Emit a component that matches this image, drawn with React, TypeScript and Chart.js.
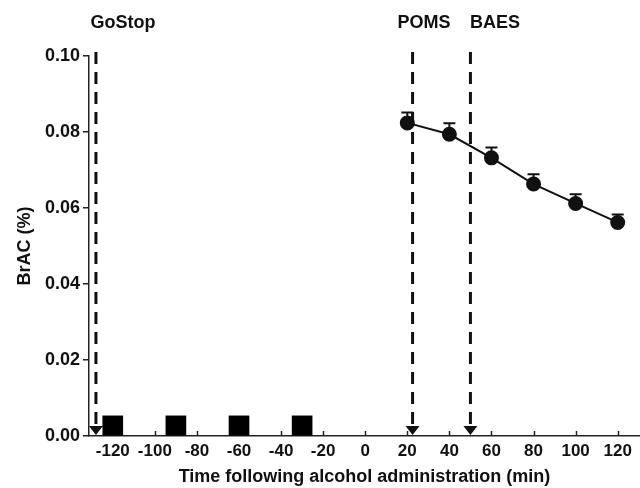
import React, { useEffect, useRef } from 'react';
import { Chart, registerables } from 'chart.js';

Chart.register(...registerables);

// ---- data ----
const times = [20, 40, 60, 80, 100, 120];
const brac = [0.0824, 0.0794, 0.0732, 0.0663, 0.0612, 0.0562];
const bracSem = [0.0027, 0.0029, 0.0027, 0.0026, 0.0024, 0.0021];
const drinkTimes = [-120, -90, -60, -30];
const drinkMarks = [0.0053, 0.0053, 0.0053, 0.0053];
const eventNames = ['GoStop', 'POMS', 'BAES'];
const eventTimes = [-128, 22.5, 50];
const xTicks = [-120, -100, -80, -60, -40, -20, 0, 20, 40, 60, 80, 100, 120];
const yTicks = [0, 0.02, 0.04, 0.06, 0.08, 0.1];

const FONT = '"Liberation Sans", Arial, Helvetica, sans-serif';
const INK = '#111';

const annotate = {
  id: 'annotate',
  beforeDatasetsDraw(chart: any, _args: any, opts: any) {
    const { ctx, chartArea: a, scales } = chart;
    const x = scales.x;
    ctx.save();
    // dashed event lines
    ctx.strokeStyle = INK;
    ctx.lineWidth = 3;
    ctx.setLineDash([12, 8]);
    eventTimes.forEach((t) => {
      const px = x.getPixelForValue(t);
      ctx.beginPath();
      ctx.moveTo(px, a.top - 4);
      ctx.lineTo(px, a.bottom - 9);
      ctx.stroke();
    });
    ctx.setLineDash([]);
    // arrowheads
    ctx.fillStyle = INK;
    eventTimes.forEach((t) => {
      const px = x.getPixelForValue(t);
      ctx.beginPath();
      ctx.moveTo(px - 7, a.bottom - 10);
      ctx.lineTo(px + 7, a.bottom - 10);
      ctx.lineTo(px, a.bottom - 1);
      ctx.closePath();
      ctx.fill();
    });
    // event labels
    ctx.font = `bold 18px ${FONT}`;
    ctx.textAlign = 'center';
    ctx.textBaseline = 'middle';
    eventNames.forEach((n, i) => {
      ctx.fillText(n, x.getPixelForValue(eventTimes[i]) + opts.labelShift[i], opts.labelY);
    });
    // inward x tick marks
    ctx.strokeStyle = '#222';
    ctx.lineWidth = 1.5;
    xTicks.forEach((v) => {
      const px = Math.round(x.getPixelForValue(v)) + 0.5;
      ctx.beginPath();
      ctx.moveTo(px, a.bottom);
      ctx.lineTo(px, a.bottom - 5);
      ctx.stroke();
    });
    ctx.restore();
  },
  afterDatasetsDraw(chart: any) {
    const { ctx, scales } = chart;
    const x = scales.x;
    const y = scales.y;
    ctx.save();
    ctx.strokeStyle = INK;
    ctx.lineWidth = 2;
    times.forEach((t, i) => {
      const px = x.getPixelForValue(t);
      const py = y.getPixelForValue(brac[i]);
      const pt = y.getPixelForValue(brac[i] + bracSem[i]);
      ctx.beginPath();
      ctx.moveTo(px, py);
      ctx.lineTo(px, pt);
      ctx.moveTo(px - 6, pt);
      ctx.lineTo(px + 6, pt);
      ctx.stroke();
    });
    ctx.restore();
  },
};

export default function App() {
  const ref = useRef<HTMLCanvasElement>(null);

  useEffect(() => {
    if (!ref.current) return;
    const chart = new Chart(ref.current, {
      type: 'line',
      data: {
        datasets: [
          {
            type: 'line',
            label: 'BrAC',
            data: times.map((t, i) => ({ x: t, y: brac[i] })),
            borderColor: INK,
            borderWidth: 2,
            backgroundColor: INK,
            pointBackgroundColor: INK,
            pointBorderColor: INK,
            pointRadius: 6.5,
            tension: 0,
            clip: false,
          },
          {
            type: 'bar',
            label: 'Drinks',
            data: drinkTimes.map((t, i) => ({ x: t, y: drinkMarks[i] })),
            backgroundColor: '#000',
            borderWidth: 0,
            barThickness: 20,
          } as any,
        ],
      },
      plugins: [annotate as any],
      options: {
        responsive: false,
        animation: false,
        devicePixelRatio: 1,
        layout: { autoPadding: false, padding: { top: 56, left: 0, right: 0, bottom: 0 } },
        plugins: {
          legend: { display: false },
          tooltip: { enabled: false },
          annotate: { labelShift: [27, 11.5, 24.5], labelY: 23 },
        } as any,
        scales: {
          x: {
            type: 'linear',
            min: -131.3,
            max: 130.6,
            offset: false,
            afterFit: (s: any) => {
              s.height = 52;
              s.paddingLeft = 0;
              s.paddingRight = 0;
            },
            afterBuildTicks: (s: any) => {
              s.ticks = xTicks.map((v) => ({ value: v }));
            },
            grid: { display: false, drawTicks: false },
            border: { display: true, color: '#222', width: 1.5 },
            ticks: {
              autoSkip: false,
              maxRotation: 0,
              padding: 5,
              color: INK,
              font: { family: FONT, size: 17, weight: 'bold' },
              callback: (v: any) => String(v),
            },
            title: {
              display: true,
              text: 'Time following alcohol administration (min)',
              color: INK,
              font: { family: FONT, size: 18, weight: 'bold' },
              padding: { top: 0, bottom: 0 },
            },
          },
          y: {
            type: 'linear',
            min: 0,
            max: 0.1,
            afterFit: (s: any) => {
              s.width = 89;
              s.paddingTop = 0;
              s.paddingBottom = 0;
            },
            afterBuildTicks: (s: any) => {
              s.ticks = yTicks.map((v) => ({ value: v }));
            },
            grid: {
              drawOnChartArea: false,
              drawTicks: true,
              tickLength: 6,
              color: '#222',
              lineWidth: 1.5,
            },
            border: { display: true, color: '#222', width: 1.5 },
            ticks: {
              padding: 3,
              color: INK,
              font: { family: FONT, size: 18, weight: 'bold' },
              callback: (v: any) => Number(v).toFixed(2),
            },
            title: {
              display: true,
              text: 'BrAC (%)',
              color: INK,
              font: { family: FONT, size: 18, weight: 'bold' },
              padding: { top: 14, bottom: 0 },
            },
          },
        },
      } as any,
    });
    return () => chart.destroy();
  }, []);

  return (
    <div style={{ position: 'absolute', left: 0, top: 0, width: 640, height: 488, background: '#fff' }}>
      <canvas ref={ref} width={640} height={488} style={{ display: 'block' }} />
    </div>
  );
}
